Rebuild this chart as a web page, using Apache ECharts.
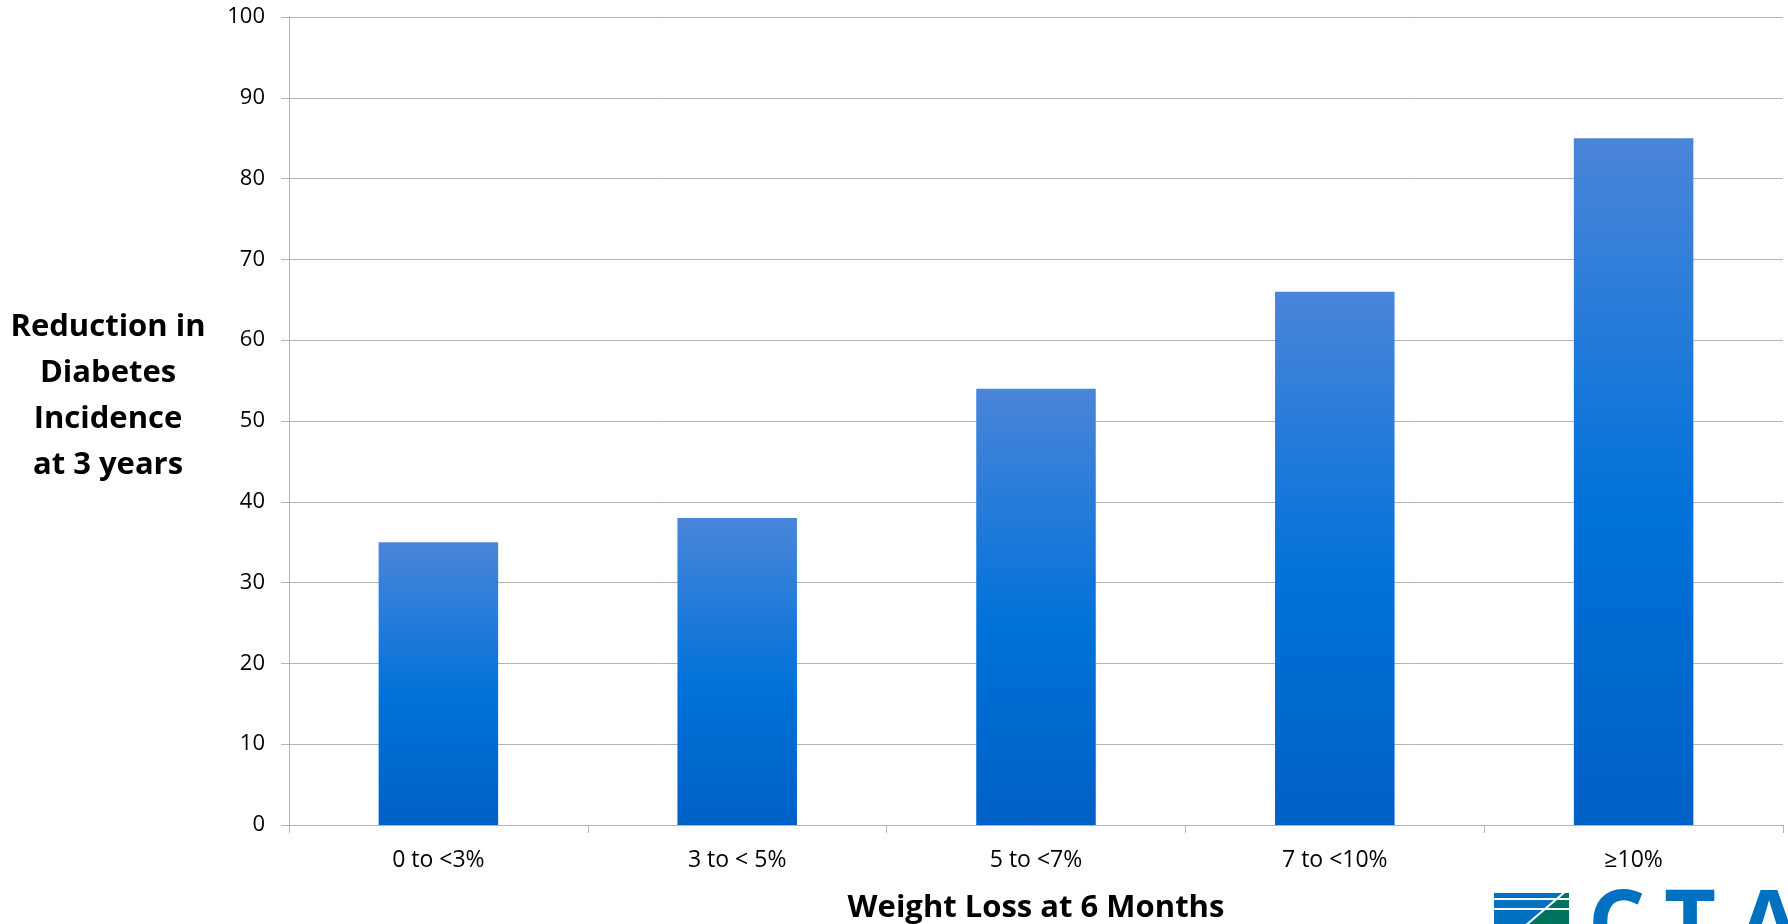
<!DOCTYPE html>
<html>
<head>
<meta charset="utf-8">
<script src="https://cdn.jsdelivr.net/npm/echarts@6/dist/echarts.min.js"></script>
<style>
  html, body { margin: 0; padding: 0; background: #fff; }
  #chart { width: 1788px; height: 924px; }
</style>
</head>
<body>
<div id="chart"></div>
<script>
const categories = ['0 to <3%', '3 to < 5%', '5 to <7%', '7 to <10%', '≥10%'];
const reduction = [35, 38, 54, 66, 85];
const yTicks = { min: 0, max: 100, interval: 10 };

const font = '"Open Sans", "Noto Sans", sans-serif';
const gridColor = '#b3b3b3';

const chart = echarts.init(document.getElementById('chart'), null, { renderer: 'canvas' });

const barFill = new echarts.graphic.LinearGradient(0, 0, 0, 1, [
  { offset: 0, color: '#4a85da' },
  { offset: 0.55, color: '#0072d9' },
  { offset: 1, color: '#0061c6' }
]);

chart.setOption({
  animation: false,
  backgroundColor: '#ffffff',
  grid: { left: 289, right: 5, top: 17, bottom: 99, containLabel: false, outerBoundsMode: 'none' },
  xAxis: {
    type: 'category',
    data: categories,
    boundaryGap: true,
    name: 'Weight Loss at 6 Months',
    nameLocation: 'middle',
    nameGap: 83,
    nameTextStyle: { fontFamily: font, fontWeight: 'bold', fontSize: 31, color: '#000', verticalAlign: 'middle' },
    axisLine: { lineStyle: { color: gridColor, width: 1 } },
    axisTick: { show: true, length: 8, alignWithLabel: false, lineStyle: { color: gridColor } },
    axisLabel: { fontFamily: font, fontSize: 23, color: '#000', margin: 24 }
  },
  yAxis: {
    type: 'value',
    min: yTicks.min,
    max: yTicks.max,
    interval: yTicks.interval,
    axisLine: { show: true, lineStyle: { color: gridColor, width: 1 } },
    axisTick: { show: true, length: 8, lineStyle: { color: gridColor } },
    axisLabel: { fontFamily: font, fontSize: 22, color: '#000', margin: 24 },
    splitLine: { lineStyle: { color: gridColor, width: 1 } }
  },
  series: [{
    type: 'bar',
    data: reduction,
    barWidth: '40%',
    itemStyle: { color: barFill }
  }],
  graphic: [
    // y axis title, centred left of the axis
    {
      type: 'text',
      style: {
        x: 108, y: 396,
        text: 'Reduction in\nDiabetes\nIncidence\nat 3 years',
        font: 'bold 31px ' + font,
        fill: '#000',
        textAlign: 'center',
        textVerticalAlign: 'middle',
        lineHeight: 46
      }
    },
    // CTA logo, cut off at the bottom edge
    { type: 'rect', shape: { x: 1494, y: 893, width: 75, height: 5 }, style: { fill: '#0070c0' } },
    { type: 'rect', shape: { x: 1494, y: 900, width: 75, height: 8 }, style: { fill: '#0070c0' } },
    { type: 'rect', shape: { x: 1494, y: 910, width: 75, height: 14 }, style: { fill: '#0070c0' } },
    { type: 'polygon', shape: { points: [[1569, 893], [1569, 924], [1530, 924], [1564, 893]] }, style: { fill: '#00735f' } },
    { type: 'line', shape: { x1: 1525, y1: 926, x2: 1566, y2: 891 }, style: { stroke: '#fff', lineWidth: 2 } },
    { type: 'line', shape: { x1: 1494, y1: 899, x2: 1569, y2: 899 }, style: { stroke: '#fff', lineWidth: 2 } },
    { type: 'line', shape: { x1: 1494, y1: 909, x2: 1569, y2: 909 }, style: { stroke: '#fff', lineWidth: 2 } },
    { type: 'text', style: { x: 1588, y: 883, text: 'C', font: 'bold 90px ' + font, fill: '#0070c0', textVerticalAlign: 'top' } },
    { type: 'text', style: { x: 1664, y: 883, text: 'T', font: 'bold 90px ' + font, fill: '#0070c0', textVerticalAlign: 'top' } },
    { type: 'text', style: { x: 1738, y: 883, text: 'A', font: 'bold 90px ' + font, fill: '#0070c0', textVerticalAlign: 'top' } }
  ]
});

window.addEventListener('resize', () => chart.resize());
</script>
</body>
</html>
